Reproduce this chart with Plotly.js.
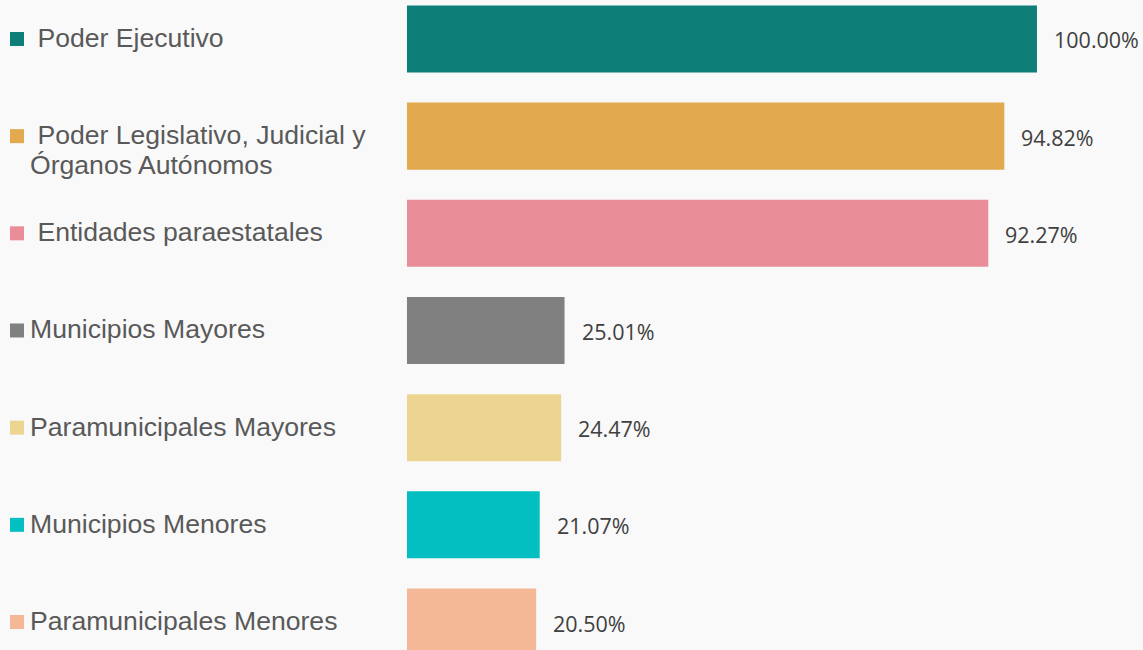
<!DOCTYPE html>
<html>
<head>
<meta charset="utf-8">
<script src="https://cdn.plot.ly/plotly-3.0.1.min.js"></script>
<style>html,body{margin:0;padding:0;background:#f9f9f9;}#chart{width:1143px;height:650px;}</style>
</head>
<body>
<div id="chart"></div>
<script>
const categories = [
  "\u00a0Poder Ejecutivo",
  "\u00a0Poder Legislativo, Judicial y<br>Órganos Autónomos",
  "\u00a0Entidades paraestatales",
  "Municipios Mayores",
  "Paramunicipales Mayores",
  "Municipios Menores",
  "Paramunicipales Menores"
];
const values = [100.00, 94.82, 92.27, 25.01, 24.47, 21.07, 20.50];
const valueLabels = ["100.00%", "94.82%", "92.27%", "25.01%", "24.47%", "21.07%", "20.50%"];
const colors = ["#0e7f78", "#e3a94f", "#e98e98", "#808080", "#ecd591", "#04bfc1", "#f4b896"];

const idx = categories.map((c, i) => i);

const bars = {
  type: 'bar',
  orientation: 'h',
  y: idx,
  x: values,
  marker: {color: colors},
  width: 0.69,
  hoverinfo: 'skip',
  showlegend: false
};

const squares = {
  type: 'scatter',
  mode: 'markers',
  xaxis: 'x2',
  y: idx,
  x: idx.map(() => 17),
  marker: {symbol: 'square', size: 14, color: colors},
  hoverinfo: 'skip',
  showlegend: false,
  cliponaxis: false
};

const annotations = [];
categories.forEach((c, i) => {
  c.split('<br>').forEach((line, k) => {
    annotations.push({
      xref: 'x2', yref: 'y', x: 28, y: i,
      xanchor: 'left', yanchor: 'middle', align: 'left',
      text: line, showarrow: false,
      yshift: -k * 30 + 1,
      font: {family: '"Liberation Sans", Arial, sans-serif', size: 26.6, color: '#595959'}
    });
  });
  annotations.push({
    xref: 'x', yref: 'y', x: values[i], y: i,
    xanchor: 'left', yanchor: 'middle',
    text: valueLabels[i], showarrow: false, xshift: 15, yshift: -1,
    font: {family: '"Open Sans", sans-serif', size: 21.5, color: '#404040'}
  });
});

const layout = {
  width: 1143, height: 650,
  margin: {l: 0, r: 0, t: 0, b: 0},
  paper_bgcolor: '#f9f9f9',
  plot_bgcolor: '#f9f9f9',
  xaxis: {range: [-64.6, 116.83], visible: false, fixedrange: true},
  xaxis2: {range: [0, 1143], overlaying: 'x', visible: false, fixedrange: true},
  yaxis: {range: [6.288, -0.401], visible: false, fixedrange: true},
  annotations: annotations,
  showlegend: false
};

Plotly.newPlot('chart', [bars, squares], layout, {displayModeBar: false, staticPlot: true});
</script>
</body>
</html>
